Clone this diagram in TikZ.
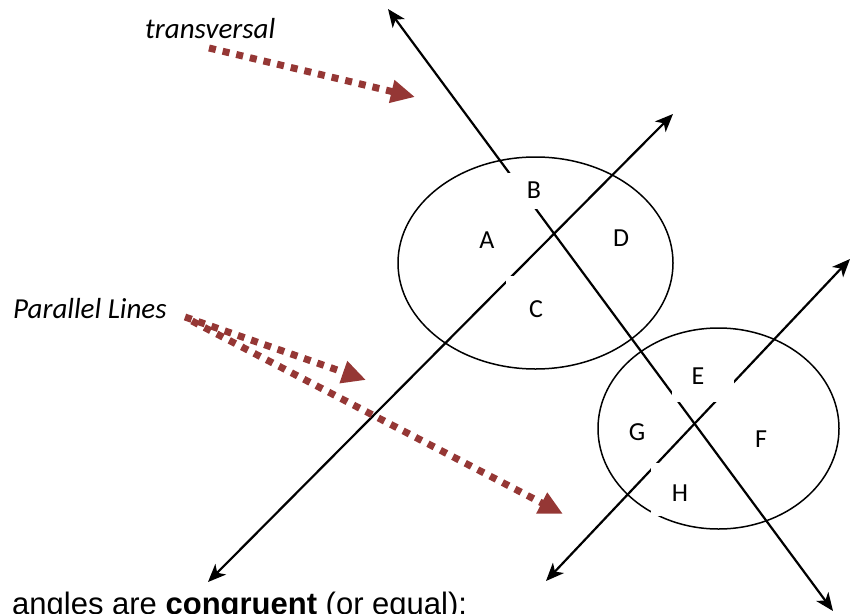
\documentclass[tikz,border=0pt]{standalone}
\usepackage{fontspec}
\setmainfont{Carlito}
\newfontfamily\arialfont{Liberation Sans}
\usetikzlibrary{arrows.meta,shapes.geometric}
\definecolor{dred}{HTML}{953735}
\begin{document}
\begin{tikzpicture}[x=1pt,y=-1pt,
  dline/.style={line width=2.2pt,{Stealth[length=18pt,width=15pt,inset=5pt]}-{Stealth[length=18pt,width=15pt,inset=5pt]}},
  oval/.style={draw,ellipse,line width=1.5pt,inner sep=0pt},
  gapbox/.style={fill=white,inner sep=0pt},
  lbl/.style={font=\fontsize{26}{30}\selectfont,inner sep=0pt},
  note/.style={font=\itshape\fontsize{29}{33}\selectfont,anchor=base west,inner sep=0pt},
  darr/.style={draw=dred,line width=7pt,dash pattern=on 7pt off 7pt,-{Triangle[length=24pt,width=22pt]}}]
\useasboundingbox (0,0) rectangle (851,613);
% lines
\coordinate (T1) at (388,9); \coordinate (T2) at (833,611);
\coordinate (P1a) at (673,114); \coordinate (P1b) at (208,582);
\coordinate (P2a) at (850,259); \coordinate (P2b) at (546,581);
\draw[dline] (T1) -- (T2);
\draw[dline] (P1b) -- (P1a);
\draw[dline] (P2b) -- (P2a);
% ovals
\node[oval,minimum width=275pt,minimum height=212pt] (O1) at (535.5,263) {};
\node[oval,minimum width=241pt,minimum height=201pt] (O2) at (718.5,428.5) {};
% white label boxes
\node[gapbox,minimum width=52pt,minimum height=36pt] (Bbox) at (534,191) {};
\node[gapbox,minimum width=60pt,minimum height=66pt] (Cbox) at (536,309) {};
\node[gapbox,minimum width=62pt,minimum height=52pt] (Ebox) at (703,376) {};
\node[gapbox,minimum width=58pt,minimum height=53pt] (Hbox) at (680,489.5) {};
% labels
\node[lbl] (A) at (487,240) {A};
\node[lbl] (B) at (534,190) {B};
\node[lbl] (C) at (536,309) {C};
\node[lbl] (D) at (621,238) {D};
\node[lbl] (E) at (698,376) {E};
\node[lbl] (F) at (761,439) {F};
\node[lbl] (G) at (637,432) {G};
\node[lbl] (H) at (680,493) {H};
% notes
\node[note] (tv) at (145,38) {transversal};
\node[note] (pl) at (13,318) {Parallel Lines};
\coordinate (s1) at (209,48); \coordinate (e1) at (415,97);
\coordinate (s2) at (185,317); \coordinate (e2) at (366,380);
\coordinate (s3) at (192,321); \coordinate (e3) at (563,514);
\draw[darr] (s1) -- (e1);
\draw[darr] (s2) -- (e2);
\draw[darr] (s3) -- (e3);
\node[anchor=base west,inner sep=0pt,font=\arialfont\fontsize{31}{36}\selectfont] (bt) at (12,614) {angles are \textbf{congruent} (or equal):};
\end{tikzpicture}
\end{document}
